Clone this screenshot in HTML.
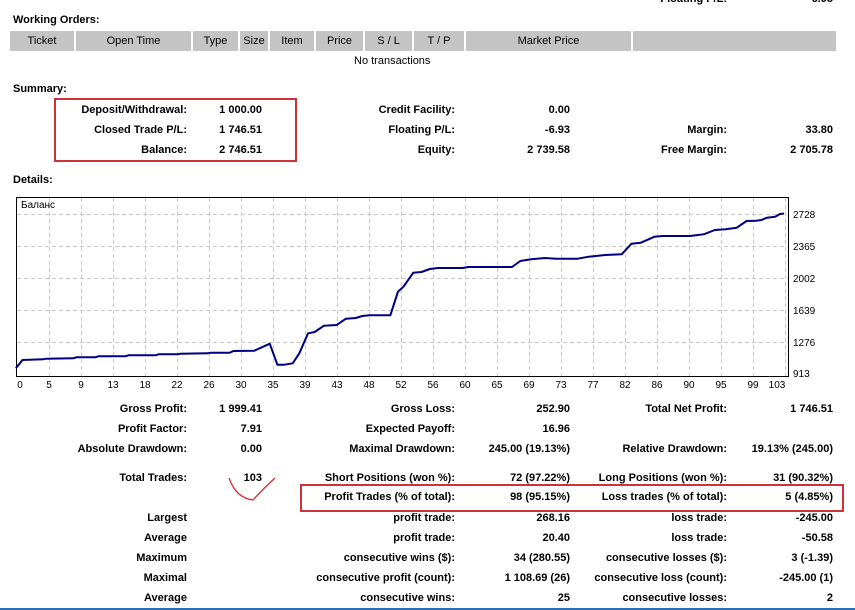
<!DOCTYPE html>
<html><head><meta charset="utf-8"><style>
body{margin:0;width:855px;height:610px;background:#fff;position:relative;overflow:hidden;font-family:"Liberation Sans",sans-serif;font-size:11px;color:#000}
.t{position:absolute;white-space:nowrap;line-height:14px}
.b{font-weight:bold}
.r{text-align:right}
.hd{position:absolute;top:31px;height:20px;background:#c4c4c4;line-height:20px;text-align:center;font-size:11px}
</style></head><body>

<div class="t b r" style="right:128px;top:-8px">Floating P/L:</div>
<div class="t b r" style="right:22px;top:-8px">-6.93</div>

<div class="t b" style="left:13px;top:13px">Working Orders:</div>
<div class="hd" style="left:10px;width:64px">Ticket</div>
<div class="hd" style="left:76px;width:115px">Open Time</div>
<div class="hd" style="left:193px;width:45px">Type</div>
<div class="hd" style="left:240px;width:28px">Size</div>
<div class="hd" style="left:270px;width:44px">Item</div>
<div class="hd" style="left:316px;width:47px">Price</div>
<div class="hd" style="left:365px;width:47px">S / L</div>
<div class="hd" style="left:414px;width:50px">T / P</div>
<div class="hd" style="left:466px;width:165px">Market Price</div>
<div class="hd" style="left:633px;width:203px"></div>
<div class="t" style="left:354px;top:54px">No transactions</div>

<div class="t b" style="left:13px;top:82px">Summary:</div>
<div class="t b r" style="right:668px;top:103px">Deposit/Withdrawal:</div>
<div class="t b r" style="right:593px;top:103px">1 000.00</div>
<div class="t b r" style="right:668px;top:123px">Closed Trade P/L:</div>
<div class="t b r" style="right:593px;top:123px">1 746.51</div>
<div class="t b r" style="right:668px;top:143px">Balance:</div>
<div class="t b r" style="right:593px;top:143px">2 746.51</div>
<div class="t b r" style="right:400px;top:103px">Credit Facility:</div>
<div class="t b r" style="right:285px;top:103px">0.00</div>
<div class="t b r" style="right:400px;top:123px">Floating P/L:</div>
<div class="t b r" style="right:285px;top:123px">-6.93</div>
<div class="t b r" style="right:400px;top:143px">Equity:</div>
<div class="t b r" style="right:285px;top:143px">2 739.58</div>
<div class="t b r" style="right:128px;top:123px">Margin:</div>
<div class="t b r" style="right:22px;top:123px">33.80</div>
<div class="t b r" style="right:128px;top:143px">Free Margin:</div>
<div class="t b r" style="right:22px;top:143px">2 705.78</div>
<div style="position:absolute;left:54px;top:98px;width:239px;height:60px;border:2px solid #d0303a"></div>

<div class="t b" style="left:13px;top:173px">Details:</div>

<svg style="position:absolute;left:0;top:0" width="855" height="610">
<g stroke="#c8c8c8" stroke-dasharray="4,3" stroke-width="1">
<line x1="17" x2="788" y1="214.5" y2="214.5"/>
<line x1="17" x2="788" y1="246.5" y2="246.5"/>
<line x1="17" x2="788" y1="278.5" y2="278.5"/>
<line x1="17" x2="788" y1="310.5" y2="310.5"/>
<line x1="17" x2="788" y1="342.5" y2="342.5"/>
</g>
<g stroke="#c8c8c8" stroke-dasharray="4,3" stroke-width="1">
<line x1="49.5" x2="49.5" y1="198" y2="376"/><line x1="81.5" x2="81.5" y1="198" y2="376"/><line x1="113.5" x2="113.5" y1="198" y2="376"/><line x1="145.5" x2="145.5" y1="198" y2="376"/><line x1="177.5" x2="177.5" y1="198" y2="376"/><line x1="209.5" x2="209.5" y1="198" y2="376"/><line x1="241.5" x2="241.5" y1="198" y2="376"/><line x1="273.5" x2="273.5" y1="198" y2="376"/><line x1="305.5" x2="305.5" y1="198" y2="376"/><line x1="337.5" x2="337.5" y1="198" y2="376"/><line x1="369.5" x2="369.5" y1="198" y2="376"/><line x1="401.5" x2="401.5" y1="198" y2="376"/><line x1="433.5" x2="433.5" y1="198" y2="376"/><line x1="465.5" x2="465.5" y1="198" y2="376"/><line x1="497.5" x2="497.5" y1="198" y2="376"/><line x1="529.5" x2="529.5" y1="198" y2="376"/><line x1="561.5" x2="561.5" y1="198" y2="376"/><line x1="593.5" x2="593.5" y1="198" y2="376"/><line x1="625.5" x2="625.5" y1="198" y2="376"/><line x1="657.5" x2="657.5" y1="198" y2="376"/><line x1="689.5" x2="689.5" y1="198" y2="376"/><line x1="721.5" x2="721.5" y1="198" y2="376"/><line x1="753.5" x2="753.5" y1="198" y2="376"/><line x1="785.5" x2="785.5" y1="198" y2="376"/>
</g>
<rect x="16.5" y="197.5" width="772" height="179" fill="none" stroke="#000" stroke-width="1"/>
<g transform="translate(17,0) scale(1.0159,1) translate(-20,0)">
<polyline fill="none" stroke="#000080" stroke-width="2" stroke-linejoin="round" points="18.9,368.3 25.4,360 45.9,359.3 48.6,358.7 75.6,358.3 78.3,357.3 97.2,357.3 99.9,356.3 126.8,356.3 129.5,355.3 156.5,355.3 159.2,354.3 178.1,354.3 180.8,353.7 207.8,353.3 210.5,352.7 229.4,352.7 233.1,351 253.6,350.7 268.8,343.7 276.3,364.7 283.3,364.7 291.4,363.3 297.9,353.3 306.5,333.3 313,332 322.2,325.7 334.6,325 343.8,318.7 353.5,318 359.9,316 366.9,315.3 387.5,315.3 395,291.7 400.4,286.7 410.1,272.7 418.2,272 426.3,269 434.4,268 458.7,268 464.1,267 507.3,267 515.4,261 526.1,259.3 539.6,258 550.4,258.7 572,258.7 582.8,256.7 599,255 615.2,254.3 624.9,243.7 634.1,242.7 647.6,236.7 655.7,236 682.6,236 696.1,234.3 706.9,230 717.7,229.3 728.5,227.7 738.2,221 747.4,220.7 752.8,220 758.2,217.7 766.3,216.7 771,214 775,213.5"/>
</g>
<g font-family="Liberation Sans, sans-serif" font-size="10" fill="#000">
<text x="21" y="208">Баланс</text>
<text x="793" y="218">2728</text><text x="793" y="250">2365</text><text x="793" y="282">2002</text><text x="793" y="314">1639</text><text x="793" y="346">1276</text><text x="793" y="377">913</text>
<g text-anchor="middle">
<text x="20" y="388">0</text><text x="49" y="388">5</text><text x="81" y="388">9</text><text x="113" y="388">13</text><text x="145" y="388">18</text><text x="177" y="388">22</text><text x="209" y="388">26</text><text x="241" y="388">30</text><text x="273" y="388">35</text><text x="305" y="388">39</text><text x="337" y="388">43</text><text x="369" y="388">48</text><text x="401" y="388">52</text><text x="433" y="388">56</text><text x="465" y="388">60</text><text x="497" y="388">65</text><text x="529" y="388">69</text><text x="561" y="388">73</text><text x="593" y="388">77</text><text x="625" y="388">82</text><text x="657" y="388">86</text><text x="689" y="388">90</text><text x="721" y="388">95</text><text x="753" y="388">99</text><text x="777" y="388">103</text>
</g></g>
<path d="M229,478 Q236,498 253,500 Q262,490 275,478" fill="none" stroke="#d03030" stroke-width="1.3"/>
</svg>

<div class="t b r" style="right:668px;top:402px">Gross Profit:</div>
<div class="t b r" style="right:593px;top:402px">1 999.41</div>
<div class="t b r" style="right:668px;top:422px">Profit Factor:</div>
<div class="t b r" style="right:593px;top:422px">7.91</div>
<div class="t b r" style="right:668px;top:442px">Absolute Drawdown:</div>
<div class="t b r" style="right:593px;top:442px">0.00</div>
<div class="t b r" style="right:668px;top:471px">Total Trades:</div>
<div class="t b r" style="right:593px;top:471px">103</div>
<div class="t b r" style="right:668px;top:511px">Largest</div>
<div class="t b r" style="right:668px;top:531px">Average</div>
<div class="t b r" style="right:668px;top:551px">Maximum</div>
<div class="t b r" style="right:668px;top:571px">Maximal</div>
<div class="t b r" style="right:668px;top:591px">Average</div>

<div class="t b r" style="right:400px;top:402px">Gross Loss:</div>
<div class="t b r" style="right:285px;top:402px">252.90</div>
<div class="t b r" style="right:400px;top:422px">Expected Payoff:</div>
<div class="t b r" style="right:285px;top:422px">16.96</div>
<div class="t b r" style="right:400px;top:442px">Maximal Drawdown:</div>
<div class="t b r" style="right:285px;top:442px">245.00 (19.13%)</div>
<div class="t b r" style="right:400px;top:471px">Short Positions (won %):</div>
<div class="t b r" style="right:285px;top:471px">72 (97.22%)</div>
<div class="t b r" style="right:400px;top:490px">Profit Trades (% of total):</div>
<div class="t b r" style="right:285px;top:490px">98 (95.15%)</div>
<div class="t b r" style="right:400px;top:511px">profit trade:</div>
<div class="t b r" style="right:285px;top:511px">268.16</div>
<div class="t b r" style="right:400px;top:531px">profit trade:</div>
<div class="t b r" style="right:285px;top:531px">20.40</div>
<div class="t b r" style="right:400px;top:551px">consecutive wins ($):</div>
<div class="t b r" style="right:285px;top:551px">34 (280.55)</div>
<div class="t b r" style="right:400px;top:571px">consecutive profit (count):</div>
<div class="t b r" style="right:285px;top:571px">1 108.69 (26)</div>
<div class="t b r" style="right:400px;top:591px">consecutive wins:</div>
<div class="t b r" style="right:285px;top:591px">25</div>

<div class="t b r" style="right:128px;top:402px">Total Net Profit:</div>
<div class="t b r" style="right:22px;top:402px">1 746.51</div>
<div class="t b r" style="right:128px;top:442px">Relative Drawdown:</div>
<div class="t b r" style="right:22px;top:442px">19.13% (245.00)</div>
<div class="t b r" style="right:128px;top:471px">Long Positions (won %):</div>
<div class="t b r" style="right:22px;top:471px">31 (90.32%)</div>
<div class="t b r" style="right:128px;top:490px">Loss trades (% of total):</div>
<div class="t b r" style="right:22px;top:490px">5 (4.85%)</div>
<div class="t b r" style="right:128px;top:511px">loss trade:</div>
<div class="t b r" style="right:22px;top:511px">-245.00</div>
<div class="t b r" style="right:128px;top:531px">loss trade:</div>
<div class="t b r" style="right:22px;top:531px">-50.58</div>
<div class="t b r" style="right:128px;top:551px">consecutive losses ($):</div>
<div class="t b r" style="right:22px;top:551px">3 (-1.39)</div>
<div class="t b r" style="right:128px;top:571px">consecutive loss (count):</div>
<div class="t b r" style="right:22px;top:571px">-245.00 (1)</div>
<div class="t b r" style="right:128px;top:591px">consecutive losses:</div>
<div class="t b r" style="right:22px;top:591px">2</div>

<div style="position:absolute;left:300px;top:484px;width:540px;height:24px;border:2px solid #d0303a"></div>
<div style="position:absolute;left:0;top:608px;width:855px;height:2px;background:#2a6fb8"></div>
</body></html>
